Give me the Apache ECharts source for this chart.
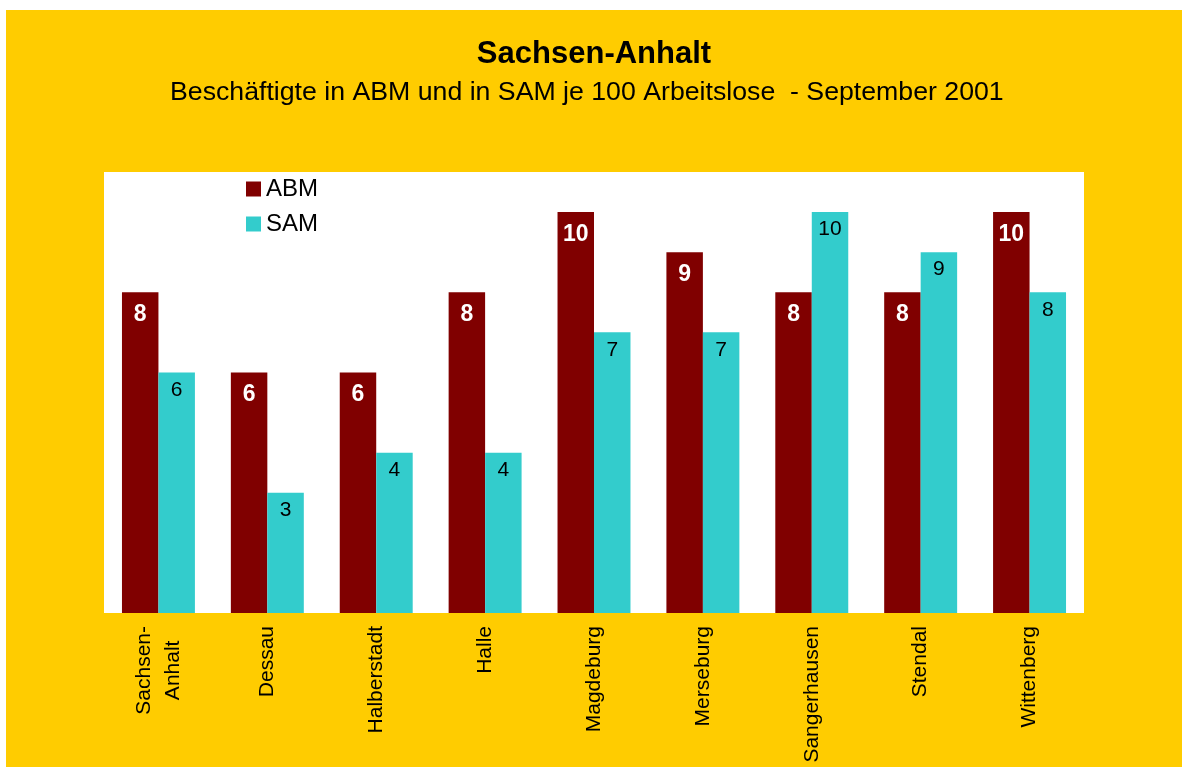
<!DOCTYPE html>
<html>
<head>
<meta charset="utf-8">
<script src="https://cdn.jsdelivr.net/npm/echarts@6/dist/echarts.min.js"></script>
<style>
  html, body { margin: 0; padding: 0; background: #fff; }
  #chart {
    position: absolute;
    left: 6px;
    top: 10px;
    width: 1176px;
    height: 757px;
    background-color: #ffcc00;
  }
</style>
</head>
<body>
<div id="chart"></div>
<script>
  // Kreise / Arbeitsamtsbezirke
  const categories = ['Sachsen-\nAnhalt', 'Dessau', 'Halberstadt', 'Halle', 'Magdeburg', 'Merseburg', 'Sangerhausen', 'Stendal', 'Wittenberg'];
  const abmValues = [8, 6, 6, 8, 10, 9, 8, 8, 10];
  const samValues = [6, 3, 4, 4, 7, 7, 10, 9, 8];

  const font = '"Liberation Sans", Arial, sans-serif';
  const myChart = echarts.init(document.getElementById('chart'));

  const option = {
    backgroundColor: '#ffcc00',
    textStyle: { fontFamily: font },
    title: [
      {
        text: 'Sachsen-Anhalt',
        left: 'center',
        top: 24,
        textStyle: { fontSize: 31, fontWeight: 'bold', color: '#000', fontFamily: font }
      },
      {
        text: 'Beschäftigte in ABM und in SAM je 100 Arbeitslose  - September 2001',
        left: 159,
        top: 64,
        textStyle: { fontSize: 26.7, fontWeight: 'normal', color: '#000', fontFamily: font }
      }
    ],
    legend: {
      orient: 'vertical',
      left: 235,
      top: 162,
      itemWidth: 15,
      itemHeight: 15,
      itemGap: 11,
      icon: 'rect',
      textStyle: { fontSize: 24, color: '#000', fontFamily: font, lineHeight: 21 },
      data: ['ABM', 'SAM']
    },
    grid: {
      left: 98,
      right: 98,
      top: 162,
      bottom: 154,
      show: true,
      backgroundColor: '#fff',
      borderWidth: 0
    },
    xAxis: {
      type: 'category',
      data: categories,
      axisLine: { show: false },
      axisTick: { show: false },
      axisLabel: {
        rotate: 90,
        margin: 13,
        interval: 0,
        color: '#000',
        fontSize: 21,
        fontFamily: font,
        lineHeight: 29,
        formatter: function (v) {
          return v.split('\n').map(function (s) { return '{c|' + s + '}'; }).join('\n');
        },
        rich: {
          c: { align: 'center', fontSize: 21, fontFamily: font, color: '#000', lineHeight: 29 }
        }
      }
    },
    yAxis: {
      type: 'value',
      min: 0,
      max: 11,
      show: false,
      splitLine: { show: false }
    },
    series: [
      {
        name: 'ABM',
        type: 'bar',
        data: abmValues,
        barGap: '0%',
        barCategoryGap: '33%',
        itemStyle: { color: '#800000' },
        label: {
          show: true,
          position: 'insideTop',
          distance: 11,
          color: '#fff',
          fontWeight: 'bold',
          fontSize: 23,
          fontFamily: font
        }
      },
      {
        name: 'SAM',
        type: 'bar',
        data: samValues,
        itemStyle: { color: '#33cccc' },
        label: {
          show: true,
          position: 'insideTop',
          distance: 7,
          color: '#000',
          fontSize: 21,
          fontFamily: font
        }
      }
    ]
  };
  myChart.setOption(option);
</script>
</body>
</html>
